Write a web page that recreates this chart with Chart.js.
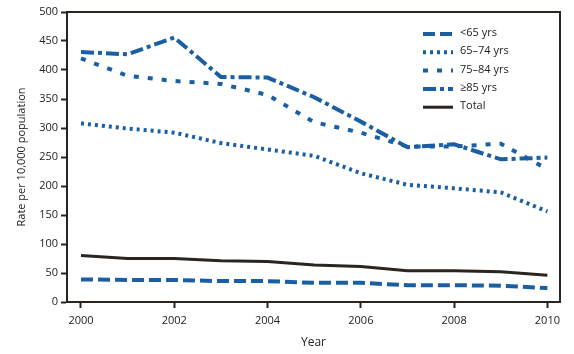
<!DOCTYPE html>
<html>
<head>
<meta charset="utf-8">
<script src="https://cdn.jsdelivr.net/npm/chart.js@4"></script>
<style>
  html, body { margin: 0; padding: 0; background: #fff; }
  #wrap { width: 574px; height: 354px; }
</style>
</head>
<body>
<div id="wrap"><canvas id="grafico" width="574" height="354"></canvas></div>
<script>
// datos
const anios = [2000, 2001, 2002, 2003, 2004, 2005, 2006, 2007, 2008, 2009, 2010];
const menor65 = [39, 38, 38, 36, 36, 33, 33, 29, 29, 28, 24];
const de65a74 = [308, 299, 292, 274, 263, 252, 222, 202, 196, 189, 156];
const de75a84 = [420, 390, 381, 376, 357, 310, 292, 268, 268, 273, 229];
const mayor85 = [431, 427, 456, 388, 387, 353, 311, 267, 272, 246, 249];
const total = [80, 75, 75, 71, 70, 64, 61, 54, 54, 52, 46];
const ticksX = [2000, 2002, 2004, 2006, 2008, 2010];

const azul = '#1b5fa3';
const oscuro = '#2b2521';
const fuente = "'Open Sans', 'Liberation Sans', sans-serif";

function puntos(valores) {
  return anios.map((a, i) => ({ x: a, y: valores[i] }));
}

// caja alrededor del area y leyenda dentro
const cajaYLeyenda = {
  id: 'cajaYLeyenda',
  afterDraw(chart) {
    const { ctx, chartArea } = chart;
    ctx.save();
    ctx.strokeStyle = oscuro;
    ctx.lineWidth = 2;
    ctx.beginPath();
    ctx.moveTo(chartArea.left, chartArea.top);
    ctx.lineTo(chartArea.right, chartArea.top);
    ctx.lineTo(chartArea.right, chartArea.bottom);
    ctx.stroke();

    const x0 = 423, largo = 30;
    let y = 34;
    ctx.font = '11px ' + fuente;
    ctx.textBaseline = 'middle';
    chart.data.datasets.forEach(ds => {
      ctx.strokeStyle = ds.borderColor;
      ctx.lineWidth = ds.borderWidth;
      ctx.setLineDash(ds.borderDash || []);
      ctx.beginPath();
      ctx.moveTo(x0, y);
      ctx.lineTo(x0 + largo, y);
      ctx.stroke();
      ctx.setLineDash([]);
      ctx.fillStyle = '#222';
      ctx.fillText(ds.label, x0 + 37, y - 1);
      y += 18.3;
    });
    ctx.restore();
  }
};

new Chart(document.getElementById('grafico'), {
  type: 'line',
  data: {
    datasets: [
      { label: '<65 yrs', data: puntos(menor65), borderColor: azul, borderWidth: 4, borderDash: [12, 5] },
      { label: '65\u201374 yrs', data: puntos(de65a74), borderColor: azul, borderWidth: 4, borderDash: [3, 4] },
      { label: '75\u201384 yrs', data: puntos(de75a84), borderColor: azul, borderWidth: 4, borderDash: [5, 9] },
      { label: '\u226585 yrs', data: puntos(mayor85), borderColor: azul, borderWidth: 4, borderDash: [13, 4, 4, 4] },
      { label: 'Total', data: puntos(total), borderColor: oscuro, borderWidth: 3 }
    ]
  },
  options: {
    responsive: false,
    animation: false,
    elements: {
      point: { radius: 0 },
      line: { tension: 0, borderCapStyle: 'butt' }
    },
    layout: { padding: { top: 12, right: 14, left: 0, bottom: 0 } },
    plugins: {
      legend: { display: false },
      tooltip: { enabled: false }
    },
    scales: {
      x: {
        type: 'linear',
        min: 1999.7,
        max: 2010.27,
        afterBuildTicks: eje => { eje.ticks = ticksX.map(v => ({ value: v })); },
        afterFit: eje => { eje.height = 52; },
        border: { color: oscuro, width: 2 },
        grid: { drawOnChartArea: false, tickLength: 6, tickColor: oscuro, tickWidth: 2 },
        ticks: { color: '#222', font: { family: fuente, size: 11 }, padding: 6, maxRotation: 0,
                 callback: v => String(v) },
        title: { display: true, text: 'Year', color: '#222', font: { family: fuente, size: 12 }, padding: { top: 6 } }
      },
      y: {
        min: 0,
        max: 500,
        afterFit: eje => { eje.width = 67; },
        border: { color: oscuro, width: 2 },
        grid: { drawOnChartArea: false, tickLength: 6, tickColor: oscuro, tickWidth: 2 },
        ticks: { stepSize: 50, color: '#222', font: { family: fuente, size: 11 }, padding: 3 },
        title: { display: true, text: 'Rate per 10,000 population', color: '#222', font: { family: fuente, size: 11 }, padding: { top: 15, bottom: 4 } }
      }
    }
  },
  plugins: [cajaYLeyenda]
});
</script>
</body>
</html>
